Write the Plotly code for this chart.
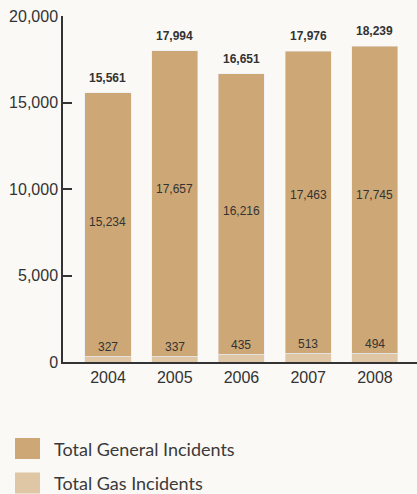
import plotly.graph_objects as go

years = ["2004", "2005", "2006", "2007", "2008"]
gas_incidents = [327, 337, 435, 513, 494]
general_incidents = [15234, 17657, 16216, 17463, 17745]
total_incidents = [15561, 17994, 16651, 17976, 18239]
y_ticks = [0, 5000, 10000, 15000, 20000]
legend_labels = ["Total General Incidents", "Total Gas Incidents"]

# label placement (styling, not data)
general_label_y = [8100, 10000, 8700, 9650, 9650]

C_GENERAL = "#CDA775"
C_GAS = "#DFC6A5"
BG = "#FAF9F6"
TXT = "#333333"
NUMFONT = "Liberation Sans"

fig = go.Figure()
fig.add_trace(go.Bar(x=years, y=gas_incidents, marker_color=C_GAS, width=0.69,
                     name=legend_labels[1], showlegend=False, hoverinfo="y"))
fig.add_trace(go.Bar(x=years, y=general_incidents, marker_color=C_GENERAL, width=0.69,
                     name=legend_labels[0], showlegend=False, hoverinfo="y"))

ann = []
for i, yr in enumerate(years):
    ann.append(dict(x=i, y=total_incidents[i], text=f"<b>{total_incidents[i]:,}</b>",
                    showarrow=False, yanchor="bottom", yshift=6,
                    font=dict(family=NUMFONT, size=12, color=TXT)))
    ann.append(dict(x=i, y=general_label_y[i], text=f"{general_incidents[i]:,}",
                    showarrow=False, yanchor="middle",
                    font=dict(family=NUMFONT, size=12, color=TXT)))
    ann.append(dict(x=i, y=gas_incidents[i], text=f"{gas_incidents[i]:,}",
                    showarrow=False, yanchor="bottom", yshift=0,
                    font=dict(family=NUMFONT, size=12, color=TXT)))

# manual legend
shapes = []
leg_colors = [C_GENERAL, C_GAS]
leg_y = [448.5, 483]
W, H = 417, 494
L, R, T, B = 63, 0, 16, 132
pw, ph = W - L - R, H - T - B
def px2x(px):
    return (px - L) / pw
def py2y(py):
    return (H - B - py) / ph
for lbl, col, cy in zip(legend_labels, leg_colors, leg_y):
    shapes.append(dict(type="rect", xref="paper", yref="paper",
                       x0=px2x(15), x1=px2x(40), y0=py2y(cy + 10.5), y1=py2y(cy - 10.5),
                       fillcolor=col, line=dict(width=0)))
    ann.append(dict(xref="paper", yref="paper", x=px2x(52), y=py2y(cy),
                    xanchor="left", yanchor="middle", text=lbl, showarrow=False,
                    font=dict(family="Lato", size=18, color="#3a3a3a")))

fig.update_layout(
    width=W, height=H,
    margin=dict(l=L, r=R, t=T, b=B),
    paper_bgcolor=BG, plot_bgcolor=BG,
    barmode="stack",
    annotations=ann,
    shapes=shapes,
    xaxis=dict(type="category", range=[-0.674, 4.63], showline=True, linecolor=TXT,
               linewidth=1.5, ticks="", showgrid=False, zeroline=False,
               tickfont=dict(family=NUMFONT, size=16, color=TXT), fixedrange=True),
    yaxis=dict(range=[0, 20000], tickvals=y_ticks, tickformat=",d", showline=True,
               linecolor=TXT, linewidth=1.5, ticks="inside", ticklen=9, tickcolor=TXT,
               tickwidth=1.5, showgrid=False, zeroline=False,
               tickfont=dict(family=NUMFONT, size=16, color=TXT), fixedrange=True),
)

fig.write_html("out.html", config={"displayModeBar": False},
               post_script="document.body.style.margin='0';document.body.style.overflow='hidden';")
